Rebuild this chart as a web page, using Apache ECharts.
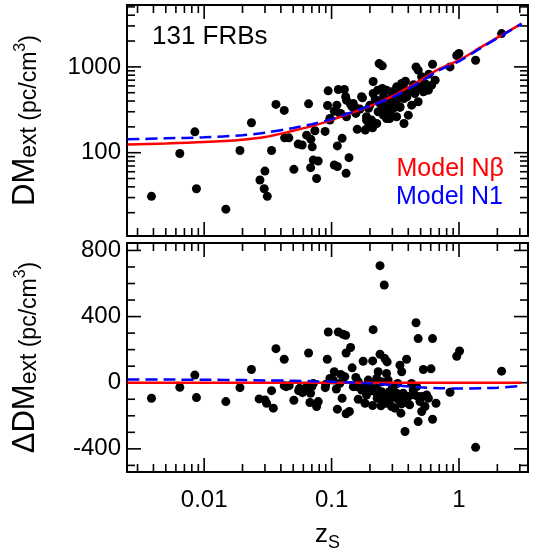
<!DOCTYPE html>
<html>
<head>
<meta charset="utf-8">
<script src="https://cdn.jsdelivr.net/npm/echarts@6/dist/echarts.min.js"></script>
<style>
  html, body { margin: 0; padding: 0; background: #fff; }
  #chart { width: 556px; height: 556px; }
</style>
</head>
<body>
<div id="chart"></div>
<script>
// upper panel: observed DM_ext against z_s (131 FRBs)
var dmZ = [0.00386, 0.00644, 0.00845, 0.0087, 0.0148, 0.0191, 0.0235, 0.0274, 0.030, 0.0296,
  0.0313, 0.0338, 0.0366, 0.0425, 0.0428, 0.0462, 0.0506, 0.0547, 0.0588, 0.0637,
  0.066, 0.0688, 0.0705, 0.0685, 0.0718, 0.0785, 0.0763, 0.074, 0.089, 0.093,
  0.094, 0.097, 0.105, 0.105, 0.111, 0.111, 0.113, 0.118, 0.121, 0.126,
  0.129, 0.13, 0.131, 0.137, 0.141, 0.145, 0.155, 0.159, 0.167, 0.175,
  0.184, 0.188, 0.195, 0.206, 0.21, 0.212, 0.22, 0.23, 0.236, 0.25,
  0.25, 0.26, 0.255, 0.27, 0.27, 0.287, 0.30, 0.30, 0.324, 0.338,
  0.344, 0.355, 0.37, 0.37, 0.38, 0.388, 0.424, 0.46, 0.478, 0.478,
  0.51, 0.54, 0.58, 0.62, 0.65, 0.85, 0.96, 1.0, 1.35, 2.16,
  0.509, 0.54, 0.495, 0.575, 0.61, 0.525, 0.45, 0.41, 0.37, 0.324,
  0.296, 0.344, 0.39, 0.314, 0.279, 0.255, 0.24, 0.27, 0.305, 0.344,
  0.232, 0.255, 0.286, 0.324, 0.212, 0.2, 0.188, 0.172, 0.148, 0.131,
  0.116, 0.157, 0.11, 0.4, 0.194, 0.226, 0.097, 0.425, 0.44, 0.35, 0.3];
var dmExt = [31, 98, 175, 38, 22, 106, 223, 48, 61, 38,
  31, 106, 365, 311, 149, 149, 64, 126, 123, 160,
  371, 143, 117, 67, 82, 80, 50, 180, 177, 355,
  526, 240, 305, 72, 120, 69, 545, 287, 147, 545,
  448, 57.5, 262, 87.5, 365, 343, 287, 187, 322, 436,
  184, 240, 330, 240, 195, 675, 417, 535, 1093, 1028,
  560, 424, 328, 535, 250, 287, 477, 349, 409, 521,
  337, 640, 219, 428, 681, 490, 545, 1000, 915, 392,
  560, 526, 822, 1074, 700, 1000, 1355, 1430, 1196, 2444,
  765, 640, 585, 535, 612, 512, 490, 535, 560, 585,
  512, 469, 448, 409, 409, 448, 375, 343, 328, 343,
  300, 274, 250, 262, 490, 358, 262, 448, 375, 409,
  287, 328, 358, 274, 200, 219, 251, 358, 620, 600, 430];

// lower panel: residuals
var resZ = [0.00386, 0.00644, 0.00845, 0.0087, 0.0148, 0.0191, 0.0235, 0.027, 0.030, 0.0309,
  0.0338, 0.0349, 0.0366, 0.0425, 0.0425, 0.0465, 0.0506, 0.0551, 0.0592, 0.0637,
  0.066, 0.0684, 0.070, 0.0676, 0.0786, 0.0763, 0.0892, 0.0925, 0.0942, 0.097,
  0.105, 0.109, 0.111, 0.113, 0.123, 0.129, 0.118, 0.121, 0.127, 0.130,
  0.130, 0.138, 0.141, 0.145, 0.155, 0.157, 0.162, 0.177, 0.183, 0.188,
  0.194, 0.206, 0.21, 0.212, 0.21, 0.226, 0.232, 0.240, 0.240, 0.259,
  0.247, 0.251, 0.244, 0.262, 0.273, 0.270, 0.278, 0.284, 0.296, 0.305,
  0.314, 0.324, 0.334, 0.35, 0.344, 0.355, 0.365, 0.377, 0.388, 0.388,
  0.377, 0.424, 0.437, 0.46, 0.478, 0.478, 0.494, 0.478, 0.51, 0.541,
  0.525, 0.603, 0.557, 0.62, 0.62, 0.66, 0.85, 0.96, 1.01, 1.35, 2.16,
  0.198, 0.219, 0.228, 0.254, 0.267, 0.287, 0.301, 0.31, 0.33, 0.34,
  0.355, 0.4, 0.41, 0.45, 0.465, 0.51, 0.575, 0.148, 0.162, 0.172,
  0.183, 0.2, 0.226, 0.247, 0.116, 0.103, 0.072, 0.056, 0.044, 0.09];
var resDM = [-94, -28, 46, -90, -114, -30, 80, -98, -104, -124,
  -48, -154, 206, 142, -18, -18, -106, -48, -60, -24,
  180, -64, -24, -120, -114, -144, -30, 142, 307, 26,
  66, -38, -160, 307, 293, 287, 50, -94, 36, 180,
  -188, -174, 213, 90, 32, -24, -100, 130, -124, -74,
  16, -48, 132, 321, -138, 26, 66, 172, 708, 591,
  -54, -100, -140, 146, 126, 56, 16, -54, -144, -84,
  -154, -64, -104, -184, 106, 66, -64, -104, -120, 142,
  -295, -4, -44, 363, 267, -84, -114, -235, -174, -144,
  80, 84, -74, 267, -221, -124, -58, 160, 192, -391, 70,
  -34, -54, -94, -80, -124, -100, -24, -54, -4, -74,
  -128, -84, -134, -74, -24, -84, -94, -24, 6, -44,
  -24, -4, -34, 6, -4, 16, -4, -34, -24, -10];

// model curves
var modelZ = [0.0025, 0.005, 0.01, 0.02, 0.03, 0.05, 0.07, 0.1, 0.15, 0.2, 0.3, 0.5, 0.7, 1, 1.5, 2, 3.1];
var modelNbeta = [125, 128, 133, 142, 152, 180, 204, 240, 297, 349, 456, 700, 948, 1196, 1710, 2193, 3190];
var modelN1 = [143, 147, 151, 160, 171, 194, 215, 246, 303, 352, 442, 672, 915, 1161, 1677, 2163, 3170];
var resNbeta = [0, 0, 0, 0, 0, 0, 0, 0, 0, 0, 0, 0, 0, 0, 0, 0, 0];
var resN1 = [20, 19, 18, 16, 14, 12, 9, 6, 1, -4, -14, -28, -33, -35, -33, -30, -20];

// tick marks
var zMajor = [0.01, 0.1, 1];
var zMinor = [0.003, 0.004, 0.005, 0.006, 0.007, 0.008, 0.009,
  0.02, 0.03, 0.04, 0.05, 0.06, 0.07, 0.08, 0.09,
  0.2, 0.3, 0.4, 0.5, 0.6, 0.7, 0.8, 0.9, 2, 3];
var dmMajor = [100, 1000];
var dmMinor = [20, 30, 40, 50, 60, 70, 80, 90, 200, 300, 400, 500, 600, 700, 800, 900, 2000, 3000, 4000, 5000];
var resMajor = [-400, 0, 400, 800];
var resMinor = [-500, -300, -200, -100, 100, 200, 300, 500, 600, 700];

var FONT = '"Liberation Sans", Arial, Helvetica, sans-serif';

function pairs(xs, ys) {
  return xs.map(function (x, i) { return [x, ys[i]]; });
}

// [x, y, kind(0 = x tick, 1 = y tick), major]
function tickData(xMaj, xMin, yMaj, yMin, yProbe) {
  var d = [];
  xMaj.forEach(function (v) { d.push([v, yProbe, 0, 1]); });
  xMin.forEach(function (v) { d.push([v, yProbe, 0, 0]); });
  yMaj.forEach(function (v) { d.push([0.1, v, 1, 1]); });
  yMin.forEach(function (v) { d.push([0.1, v, 1, 0]); });
  return d;
}

function renderTick(params, api) {
  var cs = params.coordSys;
  var p = api.coord([api.value(0), api.value(1)]);
  var len = api.value(3) ? 14 : 8;
  var style = { stroke: '#000', lineWidth: 1.6 };
  var a, b;
  if (api.value(2) === 0) {
    a = { x1: p[0], y1: cs.y + cs.height, x2: p[0], y2: cs.y + cs.height - len };
    b = { x1: p[0], y1: cs.y, x2: p[0], y2: cs.y + len };
  } else {
    a = { x1: cs.x, y1: p[1], x2: cs.x + len, y2: p[1] };
    b = { x1: cs.x + cs.width, y1: p[1], x2: cs.x + cs.width - len, y2: p[1] };
  }
  return { type: 'group', children: [
    { type: 'line', shape: a, style: style },
    { type: 'line', shape: b, style: style }
  ] };
}

var nameRich = {
  a: { fontSize: 31, lineHeight: 31, fontFamily: FONT, color: '#000', verticalAlign: 'bottom' },
  b: { fontSize: 23, lineHeight: 23, fontFamily: FONT, color: '#000', verticalAlign: 'bottom' },
  c: { fontSize: 16, lineHeight: 16, fontFamily: FONT, color: '#000', verticalAlign: 'bottom', padding: [0, 0, 12, 0] }
};

var chart = echarts.init(document.getElementById('chart'), null, { renderer: 'canvas' });

chart.setOption({
  animation: false,
  backgroundColor: '#fff',
  grid: [
    { left: 127, right: 28, top: 5, height: 231, show: true, borderColor: '#000', borderWidth: 2 },
    { left: 127, right: 28, top: 243, height: 229, show: true, borderColor: '#000', borderWidth: 2 }
  ],
  xAxis: [
    {
      gridIndex: 0, type: 'log', logBase: 10, min: 0.00248, max: 3.48,
      axisLine: { show: false }, axisTick: { show: false }, splitLine: { show: false },
      axisLabel: { show: false }
    },
    {
      gridIndex: 1, type: 'log', logBase: 10, min: 0.00248, max: 3.48,
      axisLine: { show: false }, axisTick: { show: false }, splitLine: { show: false },
      axisLabel: {
        fontSize: 24, fontFamily: FONT, color: '#000', margin: 16,
        showMinLabel: false, showMaxLabel: false,
        formatter: function (v) { return String(+Number(v).toPrecision(3)); }
      },
      name: '{z|z}{s|S}',
      nameLocation: 'middle',
      nameGap: 50,
      nameTextStyle: {
        rich: {
          z: { fontSize: 26, lineHeight: 26, fontFamily: FONT, color: '#000', verticalAlign: 'top' },
          s: { fontSize: 18, lineHeight: 18, fontFamily: FONT, color: '#000', verticalAlign: 'top', padding: [12, 0, 0, 0] }
        }
      }
    }
  ],
  yAxis: [
    {
      gridIndex: 0, type: 'log', logBase: 10, min: 10.7, max: 5260,
      axisLine: { show: false }, axisTick: { show: false }, splitLine: { show: false },
      axisLabel: {
        fontSize: 24, fontFamily: FONT, color: '#000', margin: 6,
        showMinLabel: false, showMaxLabel: false,
        formatter: function (v) { return String(Math.round(v)); }
      },
      name: '{a|DM}{b|ext (pc/cm}{c|3}{b|)}',
      nameLocation: 'middle',
      nameRotate: 90,
      nameGap: 86,
      nameTextStyle: { rich: nameRich }
    },
    {
      gridIndex: 1, type: 'value', min: -540, max: 845,
      axisLine: { show: false }, axisTick: { show: false }, splitLine: { show: false },
      axisLabel: {
        fontSize: 24, fontFamily: FONT, color: '#000', margin: 6,
        customValues: resMajor
      },
      name: '{a|ΔDM}{b|ext (pc/cm}{c|3}{b|)}',
      nameLocation: 'middle',
      nameRotate: 90,
      nameGap: 86,
      nameTextStyle: { rich: nameRich }
    }
  ],
  graphic: [
    { type: 'text', left: 152, top: 24, style: { text: '131 FRBs', fontSize: 26, fontFamily: FONT, fill: '#000' } },
    { type: 'text', right: 52, top: 157, style: { text: 'Model Nβ', fontSize: 25, fontFamily: FONT, fill: '#ff0000' } },
    { type: 'text', right: 53, top: 185, style: { text: 'Model N1', fontSize: 25, fontFamily: FONT, fill: '#0000ff' } }
  ],
  series: [
    {
      type: 'custom', xAxisIndex: 0, yAxisIndex: 0, silent: true, z: 1,
      renderItem: renderTick, data: tickData(zMajor, zMinor, dmMajor, dmMinor, 100)
    },
    {
      type: 'custom', xAxisIndex: 1, yAxisIndex: 1, silent: true, z: 1,
      renderItem: renderTick, data: tickData(zMajor, zMinor, resMajor, resMinor, 0)
    },
    {
      name: 'FRBs', type: 'scatter', xAxisIndex: 0, yAxisIndex: 0, z: 3,
      symbol: 'circle', symbolSize: 9, itemStyle: { color: '#000', opacity: 1 },
      data: pairs(dmZ, dmExt)
    },
    {
      name: 'FRB residuals', type: 'scatter', xAxisIndex: 1, yAxisIndex: 1, z: 3,
      symbol: 'circle', symbolSize: 9, itemStyle: { color: '#000', opacity: 1 },
      data: pairs(resZ, resDM)
    },
    {
      name: 'Model Nβ', type: 'line', xAxisIndex: 0, yAxisIndex: 0, z: 4,
      smooth: 0.3, showSymbol: false, clip: true,
      lineStyle: { color: '#ff0000', width: 2.5 },
      data: pairs(modelZ, modelNbeta)
    },
    {
      name: 'Model N1', type: 'line', xAxisIndex: 0, yAxisIndex: 0, z: 5,
      smooth: 0.3, showSymbol: false, clip: true,
      lineStyle: { color: '#0000ff', width: 2.5, type: [12, 6] },
      data: pairs(modelZ, modelN1)
    },
    {
      name: 'Model Nβ residual', type: 'line', xAxisIndex: 1, yAxisIndex: 1, z: 4,
      smooth: 0.3, showSymbol: false, clip: true,
      lineStyle: { color: '#ff0000', width: 2.5 },
      data: pairs(modelZ, resNbeta)
    },
    {
      name: 'Model N1 residual', type: 'line', xAxisIndex: 1, yAxisIndex: 1, z: 5,
      smooth: 0.3, showSymbol: false, clip: true,
      lineStyle: { color: '#0000ff', width: 2.5, type: [12, 6] },
      data: pairs(modelZ, resN1)
    }
  ]
});
</script>
</body>
</html>
